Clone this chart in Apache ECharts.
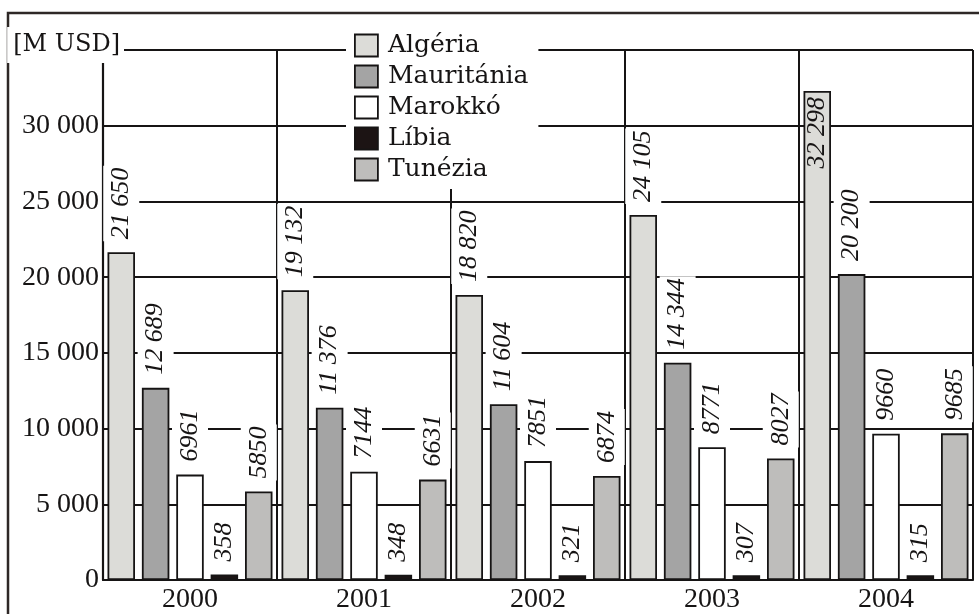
<!DOCTYPE html>
<html>
<head>
<meta charset="utf-8">
<script src="https://cdn.jsdelivr.net/npm/echarts@6/dist/echarts.min.js"></script>
<style>
  html, body { margin: 0; padding: 0; background: #fff; }
  #chart { width: 979px; height: 614px; }
</style>
</head>
<body>
<div id="chart"></div>
<script>
// Export values, million USD
const years = ['2000', '2001', '2002', '2003', '2004'];
const seriesNames = ['Algéria', 'Mauritánia', 'Marokkó', 'Líbia', 'Tunézia'];
const algeria = [21650, 19132, 18820, 24105, 32298];
const mauritania = [12689, 11376, 11604, 14344, 20200];
const morocco = [6961, 7144, 7851, 8771, 9660];
const libya = [358, 348, 321, 307, 315];
const tunisia = [5850, 6631, 6874, 8027, 9685];
const yMin = 0, yMax = 35000, yStep = 5000;
const unitLabel = '[M USD]';

const seriesValues = [algeria, mauritania, morocco, libya, tunisia];
const seriesColors = ['#dcdcd8', '#a4a4a4', '#ffffff', '#1c1414', '#bebdbb'];

const INK = '#161414';
const NUM_FONT = 'Liberation Serif';
const TXT_FONT = 'DejaVu Serif';

function groupDigits(v) {
  return String(v).replace(/\B(?=(\d{3})+(?!\d))/g, ' ');
}
// values of five digits get a thousands space, shorter ones do not
function valueText(v) {
  return v >= 10000 ? groupDigits(v) : String(v);
}

const baseLabel = {
  show: true,
  position: 'top',
  rotate: 90,
  align: 'left',
  verticalAlign: 'middle',
  distance: 11,
  fontFamily: NUM_FONT,
  fontStyle: 'italic',
  fontSize: 26,
  lineHeight: 26,
  color: INK,
  backgroundColor: '#ffffff',
  padding: [5, 2],
  formatter: p => valueText(p.value)
};

const series = seriesNames.map((name, i) => ({
  name,
  type: 'bar',
  barWidth: 27.5,
  barGap: '25%',
  itemStyle: { color: seriesColors[i], borderColor: INK, borderWidth: 1.8 },
  label: baseLabel,
  data: seriesValues[i].map(v => {
    // a bar too tall for a label above it carries it inside its top
    if (v > yMax - 3500) {
      return {
        value: v,
        label: { position: 'insideTop', align: 'right', distance: 4, backgroundColor: 'transparent' }
      };
    }
    return v;
  })
}));

const chart = echarts.init(document.getElementById('chart'), null, { renderer: 'canvas' });
chart.setOption({
  animation: false,
  backgroundColor: '#ffffff',
  grid: { left: 103, right: 6, top: 50, bottom: 34, containLabel: false },
  legend: {
    orient: 'vertical',
    left: 346,
    top: 25,
    padding: [8, 10, 7, 8],
    itemWidth: 23,
    itemHeight: 22,
    itemGap: 6,
    icon: 'rect',
    backgroundColor: '#ffffff',
    itemStyle: { borderColor: INK, borderWidth: 1.8 },
    textStyle: { fontFamily: TXT_FONT, fontSize: 25, color: INK, padding: [0, 0, 0, 5] },
    data: seriesNames
  },
  xAxis: {
    type: 'category',
    data: years,
    axisLine: { show: true, lineStyle: { color: INK, width: 2.2 } },
    axisTick: { show: false },
    axisLabel: { fontFamily: NUM_FONT, fontSize: 28, color: INK, margin: 6 },
    splitLine: { show: true, interval: 0, lineStyle: { color: INK, width: 2 } }
  },
  yAxis: {
    type: 'value',
    min: yMin,
    max: yMax,
    interval: yStep,
    axisLine: { show: true, lineStyle: { color: INK, width: 2.2 } },
    axisTick: { show: false },
    axisLabel: {
      fontFamily: NUM_FONT, fontSize: 28, color: INK, margin: 4,
      formatter: v => (v === yMax ? '' : groupDigits(v))
    },
    splitLine: { show: true, lineStyle: { color: INK, width: 2 } }
  },
  graphic: [
    {
      type: 'rect',
      silent: true,
      z: 0,
      shape: { x: 8, y: 13, width: 1000, height: 700 },
      style: { fill: 'none', stroke: '#2e2826', lineWidth: 2.5 }
    },
    {
      type: 'text',
      silent: true,
      z: 10,
      x: 124,
      y: 45,
      style: {
        text: unitLabel,
        align: 'right',
        verticalAlign: 'middle',
        font: '24px "' + TXT_FONT + '"',
        fill: INK,
        backgroundColor: '#ffffff',
        padding: [6, 4, 6, 6]
      }
    }
  ],
  series
});
</script>
</body>
</html>
